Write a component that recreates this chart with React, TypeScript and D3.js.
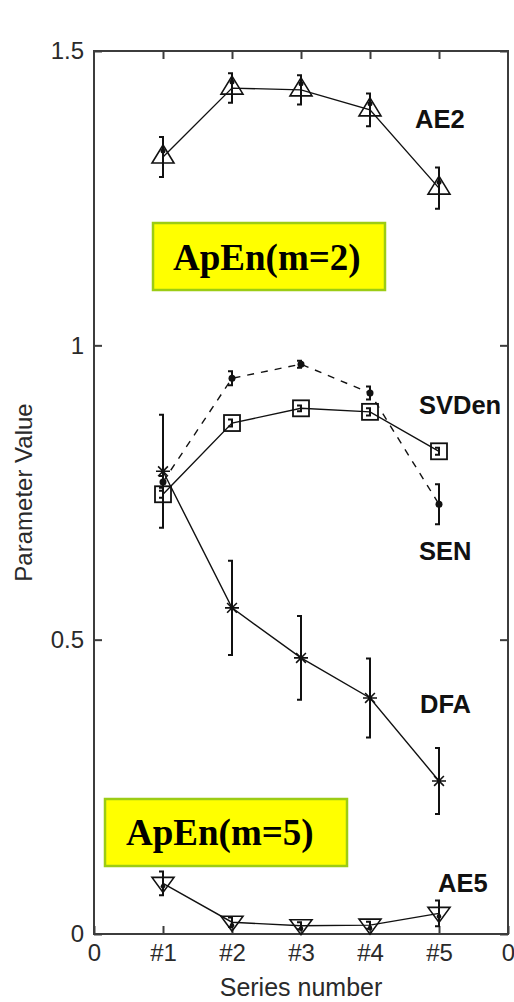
import React, { useEffect, useRef } from "react";
import * as d3 from "d3";

// series positions on the x axis
const seriesX = [1, 2, 3, 4, 5];
const xTickValues = [0, 1, 2, 3, 4, 5, 6];
const xTickLabels = ["0", "#1", "#2", "#3", "#4", "#5", "0"];
const yTickValues = [0, 0.5, 1, 1.5];
const yTickLabels = ["0", "0.5", "1", "1.5"];

// mean values and error (half length) per series
const ae2 = [1.32, 1.437, 1.434, 1.4, 1.267];
const ae2Err = [0.034, 0.025, 0.025, 0.028, 0.035];
const svden = [0.747, 0.868, 0.893, 0.887, 0.82];
const svdenErr = [0.006, 0.006, 0.005, 0.006, 0.006];
const sen = [0.768, 0.944, 0.968, 0.919, 0.73];
const senErr = [0.01, 0.012, 0.006, 0.011, 0.034];
const dfa = [0.786, 0.554, 0.469, 0.401, 0.26];
const dfaErr = [0.096, 0.08, 0.071, 0.067, 0.056];
const ae5 = [0.086, 0.02, 0.014, 0.015, 0.035];
const ae5Err = [0.02, 0.008, 0.006, 0.006, 0.022];

const seriesNames = ["AE2", "SVDen", "SEN", "DFA", "AE5"];

const W = 514;
const H = 1002;

export default function App() {
  const ref = useRef<SVGSVGElement>(null);

  useEffect(() => {
    const svg = d3.select(ref.current);
    svg.selectAll("*").remove();

    const x = d3.scaleLinear().domain([0, 6]).range([94, 508]);
    const y = d3.scaleLinear().domain([0, 1.5]).range([934, 51]);
    const ink = "#111";
    const axisCol = "#3c3c3c";
    const sans = "'Liberation Sans', Arial, sans-serif";
    const serif = "'Liberation Serif', 'Times New Roman', serif";

    svg.append("rect").attr("width", W).attr("height", H).attr("fill", "#fff");

    // yellow annotation boxes
    const boxes = [
      { text: "ApEn(m=2)", x0: 153, y0: 223, x1: 385, y1: 290, tx: 173, ty: 270 },
      { text: "ApEn(m=5)", x0: 105, y0: 799, x1: 347, y1: 866, tx: 126, ty: 845 },
    ];
    boxes.forEach((b) => {
      svg
        .append("rect")
        .attr("x", b.x0)
        .attr("y", b.y0)
        .attr("width", b.x1 - b.x0)
        .attr("height", b.y1 - b.y0)
        .attr("fill", "#ffff00")
        .attr("stroke", "#9ccc14")
        .attr("stroke-width", 2.5);
      svg
        .append("text")
        .attr("x", b.tx)
        .attr("y", b.ty)
        .attr("font-family", serif)
        .attr("font-weight", "bold")
        .attr("font-size", 37)
        .attr("fill", "#000")
        .text(b.text);
    });

    // axes box
    svg
      .append("rect")
      .attr("x", x(0))
      .attr("y", y(1.5))
      .attr("width", x(6) - x(0))
      .attr("height", y(0) - y(1.5))
      .attr("fill", "none")
      .attr("stroke", axisCol)
      .attr("stroke-width", 2);

    const styleAxis = (g: any) => {
      g.select(".domain").remove();
      g.selectAll(".tick line").attr("stroke", axisCol).attr("stroke-width", 2);
      g.selectAll(".tick text")
        .attr("fill", "#2a2a2a")
        .attr("font-family", sans)
        .attr("font-size", 24);
    };

    svg
      .append("g")
      .attr("transform", `translate(0,${y(0)})`)
      .call(
        d3
          .axisBottom(x)
          .tickValues(xTickValues)
          .tickFormat((d, i) => xTickLabels[i])
          .tickSize(-8)
          .tickPadding(10)
      )
      .call(styleAxis);
    svg
      .append("g")
      .attr("transform", `translate(0,${y(1.5)})`)
      .call(d3.axisTop(x).tickValues(seriesX).tickFormat(() => "").tickSize(-8))
      .call(styleAxis);
    svg
      .append("g")
      .attr("transform", `translate(${x(0)},0)`)
      .call(
        d3
          .axisLeft(y)
          .tickValues(yTickValues)
          .tickFormat((d, i) => yTickLabels[i])
          .tickSize(-8)
          .tickPadding(10)
      )
      .call(styleAxis);
    svg
      .append("g")
      .attr("transform", `translate(${x(6)},0)`)
      .call(d3.axisRight(y).tickValues(yTickValues).tickFormat(() => "").tickSize(-8))
      .call(styleAxis);

    svg
      .append("text")
      .attr("x", (x(0) + x(6)) / 2)
      .attr("y", 996)
      .attr("text-anchor", "middle")
      .attr("font-family", sans)
      .attr("font-size", 25)
      .attr("fill", "#2a2a2a")
      .text("Series number");
    svg
      .append("text")
      .attr("transform", `translate(32,${(y(0) + y(1.5)) / 2}) rotate(-90)`)
      .attr("text-anchor", "middle")
      .attr("font-family", sans)
      .attr("font-size", 24)
      .attr("fill", "#2a2a2a")
      .text("Parameter Value");

    const line = d3
      .line<number>()
      .x((d, i) => x(seriesX[i]))
      .y((d) => y(d));

    const errorBars = (vals: number[], errs: number[]) => {
      const g = svg.append("g").attr("stroke", ink).attr("stroke-width", 2).attr("fill", "none");
      vals.forEach((v, i) => {
        const cx = x(seriesX[i]);
        const top = y(v + errs[i]);
        const bot = y(v - errs[i]);
        g.append("path").attr("d", `M${cx - 4},${top}H${cx}V${bot}H${cx - 4}`);
      });
    };

    const drawLine = (vals: number[], dash?: string) =>
      svg
        .append("path")
        .attr("d", line(vals))
        .attr("fill", "none")
        .attr("stroke", ink)
        .attr("stroke-width", 1.4)
        .attr("stroke-dasharray", dash ?? null);

    // AE2 - up triangles
    drawLine(ae2);
    errorBars(ae2, ae2Err);
    ae2.forEach((v, i) => {
      const cx = x(seriesX[i]);
      const cy = y(v);
      svg
        .append("path")
        .attr("d", `M${cx},${cy - 12}L${cx + 11},${cy + 6}L${cx - 11},${cy + 6}Z`)
        .attr("fill", "none")
        .attr("stroke", ink)
        .attr("stroke-width", 1.6);
      svg.append("circle").attr("cx", cx).attr("cy", cy - 6).attr("r", 2.5).attr("fill", ink);
    });

    // SEN - dots, dashed
    drawLine(sen, "7,7");
    errorBars(sen, senErr);
    sen.forEach((v, i) => {
      svg.append("circle").attr("cx", x(seriesX[i])).attr("cy", y(v)).attr("r", 3.5).attr("fill", ink);
    });

    // DFA - asterisks
    drawLine(dfa);
    errorBars(dfa, dfaErr);
    dfa.forEach((v, i) => {
      const cx = x(seriesX[i]);
      const cy = y(v);
      const r = 7;
      const d = r * 0.7;
      svg
        .append("path")
        .attr(
          "d",
          `M${cx - r},${cy}H${cx + r}M${cx},${cy - r}V${cy + r}M${cx - d},${cy - d}L${cx + d},${cy + d}M${cx - d},${cy + d}L${cx + d},${cy - d}`
        )
        .attr("stroke", ink)
        .attr("stroke-width", 1.6);
    });

    // SVDen - squares
    drawLine(svden);
    errorBars(svden, svdenErr);
    svden.forEach((v, i) => {
      const cx = x(seriesX[i]);
      const cy = y(v);
      svg
        .append("rect")
        .attr("x", cx - 8)
        .attr("y", cy - 8)
        .attr("width", 16)
        .attr("height", 16)
        .attr("fill", "none")
        .attr("stroke", ink)
        .attr("stroke-width", 1.8);
    });

    // AE5 - down triangles
    drawLine(ae5);
    errorBars(ae5, ae5Err);
    ae5.forEach((v, i) => {
      const cx = x(seriesX[i]);
      const cy = y(v);
      svg
        .append("path")
        .attr("d", `M${cx - 11},${cy - 6}L${cx + 11},${cy - 6}L${cx},${cy + 9}Z`)
        .attr("fill", "none")
        .attr("stroke", ink)
        .attr("stroke-width", 1.6);
      svg.append("circle").attr("cx", cx).attr("cy", cy + 3).attr("r", 2.3).attr("fill", ink);
    });

    // series labels at the right
    const labelPos = [
      { px: 415, py: 128 },
      { px: 419, py: 414 },
      { px: 419, py: 560 },
      { px: 420, py: 713 },
      { px: 438, py: 892 },
    ];
    seriesNames.forEach((name, i) => {
      svg
        .append("text")
        .attr("x", labelPos[i].px)
        .attr("y", labelPos[i].py)
        .attr("font-family", sans)
        .attr("font-weight", "bold")
        .attr("font-size", 25.5)
        .attr("fill", ink)
        .text(name);
    });
  }, []);

  return (
    <svg
      ref={ref}
      width={W}
      height={H}
      style={{ position: "absolute", left: 0, top: 0, display: "block" }}
    />
  );
}
